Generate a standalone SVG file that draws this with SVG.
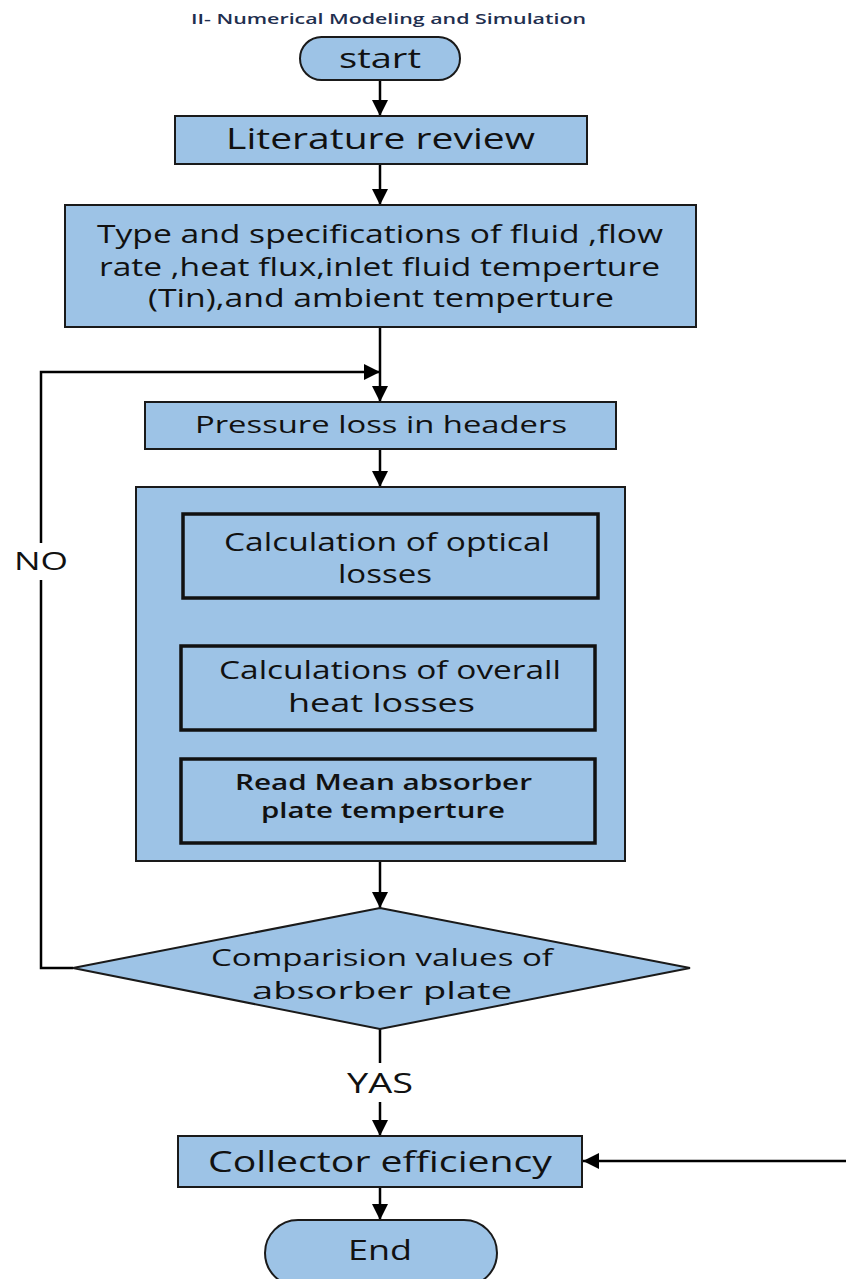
<svg xmlns="http://www.w3.org/2000/svg" width="846" height="1279" viewBox="0 0 846 1279">
<style>
.box{fill:#9DC3E6;stroke:#1a1a1a;stroke-width:2}
.inner{fill:#9DC3E6;stroke:#111;stroke-width:3.5}
.t{font-family:"Open Sans","Liberation Sans",sans-serif;fill:#111;text-anchor:middle}
.ln{stroke:#000;stroke-width:2.5;fill:none}
</style>
<defs>
<marker id="a" viewBox="0 0 16 16" refX="16" refY="8" markerWidth="16" markerHeight="16" markerUnits="userSpaceOnUse" orient="auto">
<path d="M0,0 L16,8 L0,16 z" fill="#000"/>
</marker>
</defs>
<text x="388.5" y="24" font-family="Open Sans, Liberation Sans, sans-serif" font-size="15" font-weight="600" fill="#1F2F4F" text-anchor="middle" textLength="395" lengthAdjust="spacingAndGlyphs">II- Numerical Modeling and Simulation</text>

<g id="connectors">
<line class="ln" x1="380" y1="80" x2="380" y2="116" marker-end="url(#a)"/>
<line class="ln" x1="380" y1="164" x2="380" y2="205" marker-end="url(#a)"/>
<line class="ln" x1="380" y1="327" x2="380" y2="402" marker-end="url(#a)"/>
<path class="ln" d="M73,968 H41 V580"/>
<path class="ln" d="M41,543 V372 H380" marker-end="url(#a)"/>
<line class="ln" x1="380" y1="449" x2="380" y2="487" marker-end="url(#a)"/>
<line class="ln" x1="380" y1="861" x2="380" y2="908" marker-end="url(#a)"/>
<line class="ln" x1="380" y1="1029" x2="380" y2="1063"/>
<line class="ln" x1="380" y1="1102" x2="380" y2="1136" marker-end="url(#a)"/>
<line class="ln" x1="846" y1="1161" x2="583" y2="1161" marker-end="url(#a)"/>
<line class="ln" x1="380" y1="1187" x2="380" y2="1220" marker-end="url(#a)"/>
<text class="t" x="41" y="570" font-size="26" textLength="54" lengthAdjust="spacingAndGlyphs">NO</text>
<text class="t" x="380" y="1093" font-size="27" textLength="66" lengthAdjust="spacingAndGlyphs">YAS</text>
</g>

<g id="start">
<rect class="box" x="300" y="37" width="160" height="43" rx="21.5"/>
<text class="t" x="380" y="68" font-size="28" textLength="82" lengthAdjust="spacingAndGlyphs">start</text>
</g>

<g id="literature">
<rect class="box" x="175" y="116" width="412" height="48"/>
<text class="t" x="380.5" y="149" font-size="29" textLength="309" lengthAdjust="spacingAndGlyphs">Literature review</text>
</g>

<g id="specs">
<rect class="box" x="65" y="205" width="631" height="122"/>
<text class="t" x="380" y="243" font-size="25" textLength="566" lengthAdjust="spacingAndGlyphs">Type and specifications of fluid ,flow</text>
<text class="t" x="379.5" y="276" font-size="25" textLength="561" lengthAdjust="spacingAndGlyphs">rate ,heat flux,inlet fluid temperture</text>
<text class="t" x="381" y="307" font-size="25" textLength="466" lengthAdjust="spacingAndGlyphs">(Tin),and ambient temperture</text>
</g>

<g id="pressure">
<rect class="box" x="145" y="402" width="471" height="47"/>
<text class="t" x="381" y="433" font-size="24" textLength="372" lengthAdjust="spacingAndGlyphs">Pressure loss in headers</text>
</g>

<g id="calc-group">
<rect class="box" x="136" y="487" width="489" height="374"/>
</g>

<g id="optical">
<rect class="inner" x="183" y="514" width="415" height="84"/>
<text class="t" x="387" y="551" font-size="25" textLength="326" lengthAdjust="spacingAndGlyphs">Calculation of optical</text>
<text class="t" x="385" y="583" font-size="25" textLength="94" lengthAdjust="spacingAndGlyphs">losses</text>
</g>

<g id="heat">
<rect class="inner" x="181" y="646" width="414" height="84"/>
<text class="t" x="390" y="679" font-size="25" textLength="342" lengthAdjust="spacingAndGlyphs">Calculations of overall</text>
<text class="t" x="381.5" y="712" font-size="25" textLength="187" lengthAdjust="spacingAndGlyphs">heat losses</text>
</g>

<g id="mean">
<rect class="inner" x="181" y="759" width="414" height="84"/>
<text class="t" x="383.5" y="790" font-size="21" font-weight="600" textLength="297" lengthAdjust="spacingAndGlyphs">Read Mean absorber</text>
<text class="t" x="383" y="818" font-size="21" font-weight="600" textLength="244" lengthAdjust="spacingAndGlyphs">plate temperture</text>
</g>

<g id="compare">
<polygon class="box" points="380,908 690,968 380,1029 73,968"/>
<text class="t" x="382" y="966" font-size="24" textLength="342" lengthAdjust="spacingAndGlyphs">Comparision values of</text>
<text class="t" x="382" y="999" font-size="24" textLength="260" lengthAdjust="spacingAndGlyphs">absorber plate</text>
</g>

<g id="efficiency">
<rect class="box" x="178" y="1136" width="404" height="51"/>
<text class="t" x="380" y="1172" font-size="29" textLength="344" lengthAdjust="spacingAndGlyphs">Collector efficiency</text>
</g>

<g id="end">
<rect class="box" x="265" y="1220" width="232" height="66" rx="33"/>
<text class="t" x="380" y="1260" font-size="28" textLength="64" lengthAdjust="spacingAndGlyphs">End</text>
</g>
</svg>
